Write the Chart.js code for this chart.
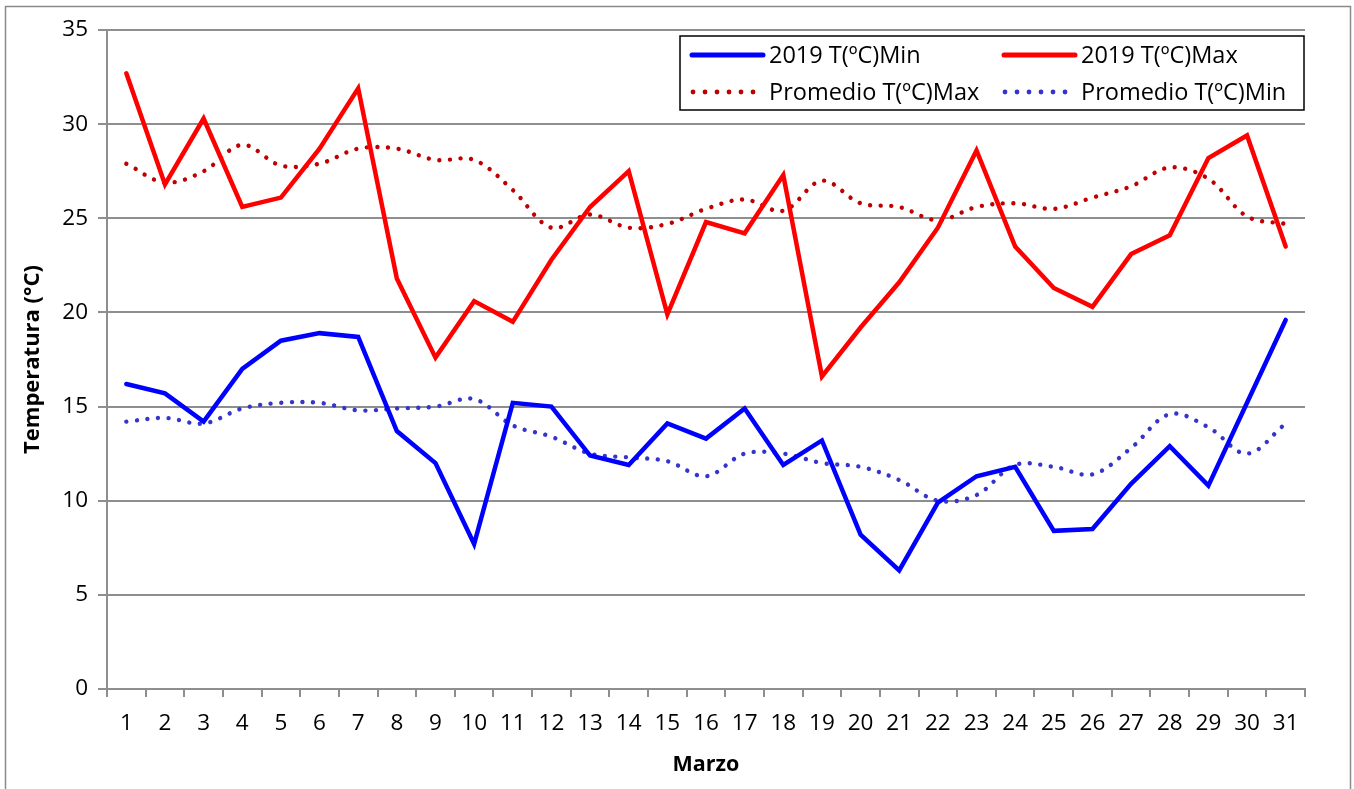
<!DOCTYPE html>
<html>
<head>
<meta charset="utf-8">
<script src="https://cdn.jsdelivr.net/npm/chart.js@4/dist/chart.umd.min.js"></script>
<style>
  html, body { margin: 0; padding: 0; background: #ffffff; }
  #wrap { width: 1354px; height: 789px; }
</style>
</head>
<body>
<div id="wrap"><canvas id="c" width="1354" height="789"></canvas></div>
<script>
// ---- data ----
const days = ["1","2","3","4","5","6","7","8","9","10","11","12","13","14","15","16","17","18","19","20","21","22","23","24","25","26","27","28","29","30","31"];
const tMin2019 = [16.2,15.7,14.2,17.0,18.5,18.9,18.7,13.7,12.0,7.7,15.2,15.0,12.4,11.9,14.1,13.3,14.9,11.9,13.2,8.2,6.3,9.9,11.3,11.8,8.4,8.5,10.9,12.9,10.8,15.2,19.6];
const tMax2019 = [32.7,26.8,30.3,25.6,26.1,28.7,31.9,21.8,17.6,20.6,19.5,22.8,25.6,27.5,19.9,24.8,24.2,27.3,16.6,19.2,21.6,24.5,28.6,23.5,21.3,20.3,23.1,24.1,28.2,29.4,23.5];
const promMax = [27.9,26.9,27.5,28.9,27.8,27.9,28.7,28.7,28.1,28.1,26.5,24.5,25.2,24.5,24.7,25.5,26.0,25.4,27.0,25.8,25.6,24.9,25.6,25.8,25.5,26.1,26.7,27.7,27.1,25.1,24.7];
const promMin = [14.2,14.4,14.1,14.9,15.2,15.2,14.8,14.9,15.0,15.4,14.0,13.4,12.5,12.3,12.1,11.3,12.5,12.5,12.0,11.8,11.1,10.0,10.3,11.9,11.8,11.4,12.8,14.6,13.9,12.5,14.1];
const seriesLabels = ["2019 T(ºC)Min", "2019 T(ºC)Max", "Promedio T(ºC)Max", "Promedio T(ºC)Min"];
const yTicks = [0, 5, 10, 15, 20, 25, 30, 35];
const xTitle = "Marzo";
const yTitle = "Temperatura (°C)";

const FONT = "'Open Sans', 'Noto Sans', sans-serif";
const GRID = '#8e8e8e';
const DOT_DASH = [0.01, 10.6];

const solid = (label, data, color) => ({
  label, data, borderColor: color, backgroundColor: color,
  borderWidth: 4.5, pointRadius: 0, tension: 0,
  borderCapStyle: 'round', borderJoinStyle: 'miter', fill: false
});
const dotted = (label, data, color) => ({
  label, data, borderColor: color, backgroundColor: color,
  borderWidth: 4.4, pointRadius: 0, tension: 0.35,
  borderDash: DOT_DASH, borderCapStyle: 'round', borderJoinStyle: 'round', fill: false
});

const datasets = [
  solid(seriesLabels[0], tMin2019, '#0000ff'),
  solid(seriesLabels[1], tMax2019, '#ff0000'),
  dotted(seriesLabels[2], promMax, '#c00000'),
  dotted(seriesLabels[3], promMin, '#3535cc')
];

const framePlugin = {
  id: 'frame',
  beforeDraw(chart) {
    const ctx = chart.ctx;
    ctx.save();
    ctx.fillStyle = '#ffffff';
    ctx.fillRect(0, 0, chart.width, chart.height);
    ctx.strokeStyle = '#8a8a8a';
    ctx.lineWidth = 1.5;
    ctx.strokeRect(5.5, 6.5, chart.width - 5.5 - 3.5, chart.height + 20);
    ctx.restore();
  }
};

const legendPlugin = {
  id: 'boxLegend',
  afterDatasetsDraw(chart) {
    const ctx = chart.ctx;
    const a = chart.chartArea;
    const x0 = a.right - 625, y0 = a.top + 6, w = 624, h = 74;
    ctx.save();
    ctx.fillStyle = '#ffffff';
    ctx.fillRect(x0, y0, w, h);
    ctx.strokeStyle = '#000000';
    ctx.lineWidth = 1.5;
    ctx.strokeRect(x0, y0, w, h);
    ctx.font = '23.5px ' + FONT;
    ctx.textBaseline = 'middle';
    ctx.fillStyle = '#000000';
    chart.data.datasets.forEach((ds, i) => {
      const col = i % 2, row = Math.floor(i / 2);
      const sx = x0 + 12 + col * 312;
      const sy = y0 + 19 + row * 37;
      ctx.strokeStyle = ds.borderColor;
      ctx.fillStyle = ds.borderColor;
      if (ds.borderDash) {
        for (let k = 0; k < 6; k++) {
          ctx.beginPath();
          ctx.arc(sx + 1 + k * 12, sy, 2.4, 0, Math.PI * 2);
          ctx.fill();
        }
      } else {
        ctx.lineWidth = 5;
        ctx.lineCap = 'round';
        ctx.beginPath();
        ctx.moveTo(sx, sy);
        ctx.lineTo(sx + 71, sy);
        ctx.stroke();
      }
      ctx.fillStyle = '#000000';
      ctx.fillText(ds.label, sx + 77, sy + 1);
    });
    ctx.restore();
  }
};

new Chart(document.getElementById('c'), {
  type: 'line',
  data: { labels: days, datasets },
  options: {
    responsive: false,
    animation: false,
    devicePixelRatio: 1,
    layout: { padding: { left: 0, right: 49, top: 30, bottom: 0 } },
    plugins: { legend: { display: false }, tooltip: { enabled: false } },
    scales: {
      x: {
        offset: true,
        grid: { display: true, offset: true, drawOnChartArea: false, drawTicks: true, tickLength: 8, color: GRID, lineWidth: 2 },
        border: { display: true, color: GRID, width: 2 },
        ticks: { color: '#000', font: { family: FONT, size: 22.5 }, padding: 13, autoSkip: false, maxRotation: 0 },
        title: { display: true, text: xTitle, color: '#000', font: { family: FONT, size: 21.5, weight: 'bold' }, padding: { top: 0, bottom: 11 } },
        afterFit(scale) { scale.height = 100; }
      },
      y: {
        min: 0, max: 35,
        afterBuildTicks(scale) { scale.ticks = yTicks.map(v => ({ value: v })); },
        grid: { color: GRID, lineWidth: 2, tickLength: 9, drawTicks: true },
        border: { display: true, color: GRID, width: 2 },
        ticks: { color: '#000', font: { family: FONT, size: 22.5 }, padding: 10 },
        title: { display: true, text: yTitle, color: '#000', font: { family: FONT, size: 22, weight: 'bold' }, padding: { top: 20, bottom: 0 } },
        afterFit(scale) { scale.width = 107; }
      }
    }
  },
  plugins: [framePlugin, legendPlugin]
});
</script>
</body>
</html>
